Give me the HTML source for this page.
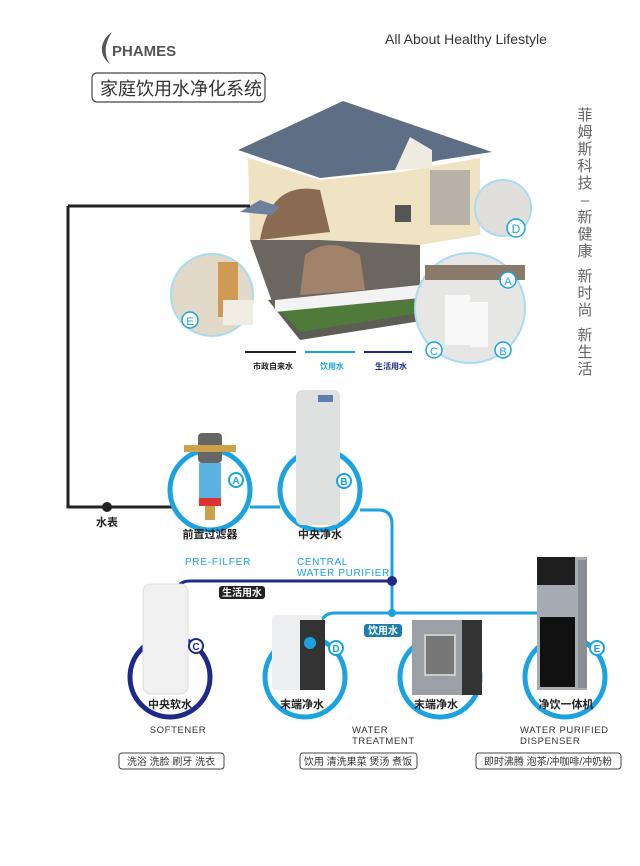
<!DOCTYPE html>
<html><head><meta charset="utf-8"><style>
body{margin:0;background:#fff;}
svg text{font-family:"Liberation Sans","Noto Sans CJK SC",sans-serif;}
</style></head><body>
<svg width="640" height="861" viewBox="0 0 640 861" xmlns="http://www.w3.org/2000/svg">
<rect width="640" height="861" fill="#fff"/>
<!-- logo -->
<path d="M112 32 C100 40 98 55 110 64 C104 56 104 44 112 32Z" fill="#555"/>
<text x="112" y="56" font-size="15" font-weight="bold" fill="#555">PHAMES</text>
<text x="385" y="44" font-size="14" fill="#333">All About Healthy Lifestyle</text>
<rect x="92" y="73" width="173" height="29" rx="5" fill="#fff" stroke="#444" stroke-width="1.2"/>
<text x="100" y="95" font-size="18" fill="#333">家庭饮用水净化系统</text>
<!-- vertical text -->
<g font-size="15" fill="#666" text-anchor="middle">
<text x="585" y="120">菲</text><text x="585" y="137">姆</text><text x="585" y="154">斯</text><text x="585" y="171">科</text><text x="585" y="188">技</text>
<text x="585" y="205">–</text>
<text x="585" y="222">新</text><text x="585" y="239">健</text><text x="585" y="256">康</text>
<text x="585" y="281">新</text><text x="585" y="298">时</text><text x="585" y="315">尚</text>
<text x="585" y="340">新</text><text x="585" y="357">生</text><text x="585" y="374">活</text>
</g>
<!-- house -->
<polygon points="268,300 420,290 440,318 300,340" fill="#5d5d55"/>
<polygon points="270,300 420,290 425,312 300,332" fill="#4f7a3a"/>
<polygon points="250,240 420,232 420,300 275,310" fill="#6b6660"/>
<polygon points="248,158 320,180 320,240 250,240" fill="#eee2c2"/>
<polygon points="320,180 400,172 480,158 480,235 420,245 320,240" fill="#efe3c4"/>
<path d="M260 240 Q270 180 320 190 L330 232Z" fill="#8a6b52"/>
<path d="M305 255 Q330 235 360 255 L365 290 L300 295Z" fill="#a0836a"/>
<rect x="430" y="170" width="40" height="55" fill="#b8b2a8"/>
<rect x="395" y="205" width="16" height="17" fill="#555"/>
<polygon points="275,300 420,285 420,298 275,312" fill="#f3f3f3"/>
<polygon points="238,150 343,101 492,152 440,160 395,170 320,178" fill="#5e6f85"/>
<polygon points="395,170 410,137 432,150 432,168" fill="#f0ece2"/>
<polygon points="240,212 260,200 280,207 272,215" fill="#6f819a"/>
<line x1="68" y1="206" x2="250" y2="206" stroke="#222" stroke-width="3"/>
<!-- insets -->
<circle cx="503" cy="208" r="28" fill="#e0dfdc" stroke="#a8dcf2" stroke-width="2"/>
<circle cx="516" cy="228" r="9" fill="#fff" stroke="#1aa3e0" stroke-width="1.5"/>
<text x="516" y="233" font-size="12" fill="#1aa3e0" text-anchor="middle">D</text>
<circle cx="470" cy="308" r="55" fill="#e6e6e4" stroke="#a8dcf2" stroke-width="2"/>
<rect x="445" y="295" width="25" height="50" fill="#f8f8f8"/>
<rect x="470" y="302" width="18" height="45" fill="#f8f8f8"/>
<rect x="425" y="265" width="100" height="15" fill="#8a7a6a"/>
<circle cx="508" cy="280" r="8" fill="#fff" stroke="#1aa3e0" stroke-width="1.5"/>
<text x="508" y="285" font-size="11" fill="#1aa3e0" text-anchor="middle">A</text>
<circle cx="434" cy="350" r="8" fill="#fff" stroke="#1aa3e0" stroke-width="1.5"/>
<text x="434" y="355" font-size="11" fill="#1aa3e0" text-anchor="middle">C</text>
<circle cx="503" cy="350" r="8" fill="#fff" stroke="#1aa3e0" stroke-width="1.5"/>
<text x="503" y="355" font-size="11" fill="#1aa3e0" text-anchor="middle">B</text>
<circle cx="212" cy="295" r="41" fill="#e3d9c8" stroke="#a8dcf2" stroke-width="2"/>
<rect x="218" y="262" width="20" height="55" fill="#d09a55"/>
<rect x="223" y="300" width="30" height="25" fill="#f2ede4"/>
<circle cx="190" cy="320" r="8" fill="#fff" stroke="#1aa3e0" stroke-width="1.5"/>
<text x="190" y="325" font-size="11" fill="#1aa3e0" text-anchor="middle">E</text>
<!-- legend -->
<line x1="245" y1="352" x2="296" y2="352" stroke="#222" stroke-width="2"/>
<line x1="305" y1="352" x2="355" y2="352" stroke="#1aa3e0" stroke-width="2"/>
<line x1="364" y1="352" x2="412" y2="352" stroke="#1e2a8a" stroke-width="2"/>
<text x="253" y="369" font-size="8" font-weight="bold" fill="#222">市政自来水</text>
<text x="320" y="369" font-size="8" font-weight="bold" fill="#1aa3e0">饮用水</text>
<text x="375" y="369" font-size="8" font-weight="bold" fill="#1e2a8a">生活用水</text>
<!-- black pipe -->
<path d="M68 206 V507 H175" fill="none" stroke="#222" stroke-width="3"/>
<circle cx="107" cy="507" r="5" fill="#222"/>
<text x="107" y="526" font-size="11" font-weight="bold" fill="#222" text-anchor="middle">水表</text>
<!-- cyan pipes -->
<path d="M250 507 H280" stroke="#1aa3e0" stroke-width="3" fill="none"/>
<path d="M360 510 H378 Q392 510 392 524 V613" stroke="#1aa3e0" stroke-width="3" fill="none"/>
<path d="M320 630 Q320 613 335 613 H540" stroke="#1aa3e0" stroke-width="3" fill="none"/>
<circle cx="392" cy="613" r="4" fill="#1aa3e0"/>
<path d="M392 581 H190 Q178 581 176 592" stroke="#1e2a8a" stroke-width="3" fill="none"/>
<circle cx="392" cy="581" r="5" fill="#1e2a8a"/>
<rect x="219" y="586" width="46" height="13" rx="3" fill="#222"/>
<text x="242" y="596" font-size="10" font-weight="bold" fill="#fff" text-anchor="middle">生活用水</text>
<rect x="364" y="624" width="38" height="13" rx="3" fill="#1b7ea8"/>
<text x="383" y="634" font-size="10" font-weight="bold" fill="#fff" text-anchor="middle">饮用水</text>
<!-- circle A -->
<circle cx="210" cy="490" r="40" fill="none" stroke="#1aa3e0" stroke-width="5"/>
<rect x="198" y="433" width="24" height="30" rx="4" fill="#666"/>
<rect x="184" y="445" width="52" height="7" fill="#c9a24a"/>
<rect x="199" y="463" width="22" height="35" fill="#5ab3e0"/>
<rect x="199" y="498" width="22" height="8" fill="#d33"/>
<rect x="205" y="506" width="10" height="14" fill="#c9a24a"/>
<circle cx="236" cy="480" r="7" fill="#fff" stroke="#1aa3e0" stroke-width="2"/>
<text x="236" y="484" font-size="10" font-weight="bold" fill="#1aa3e0" text-anchor="middle">A</text>
<text x="210" y="538" font-size="11" font-weight="bold" fill="#222" text-anchor="middle">前置过滤器</text>
<text x="218" y="565" font-size="10" fill="#1aa3e0" text-anchor="middle" letter-spacing="0.8">PRE-FILFER</text>
<!-- circle B -->
<circle cx="320" cy="490" r="40" fill="none" stroke="#1aa3e0" stroke-width="5"/>
<rect x="296" y="390" width="44" height="135" rx="6" fill="#dfe1e0"/>
<rect x="318" y="395" width="15" height="7" fill="#5b7fb0"/>
<circle cx="344" cy="481" r="7" fill="#fff" stroke="#1aa3e0" stroke-width="2"/>
<text x="344" y="485" font-size="10" font-weight="bold" fill="#1aa3e0" text-anchor="middle">B</text>
<text x="320" y="538" font-size="11" font-weight="bold" fill="#222" text-anchor="middle">中央净水</text>
<text x="297" y="565" font-size="10" fill="#1aa3e0" letter-spacing="0.6">CENTRAL</text>
<text x="297" y="576" font-size="10" fill="#1aa3e0" letter-spacing="0.6">WATER PURIFIER</text>
<!-- circle C -->
<circle cx="170" cy="677" r="40" fill="none" stroke="#1e2a8a" stroke-width="5"/>
<rect x="143" y="584" width="45" height="110" rx="8" fill="#f0f0f0" stroke="#ddd"/>
<circle cx="196" cy="646" r="7" fill="#fff" stroke="#1e2a8a" stroke-width="2"/>
<text x="196" y="650" font-size="10" font-weight="bold" fill="#1e2a8a" text-anchor="middle">C</text>
<text x="170" y="708" font-size="11" font-weight="bold" fill="#222" text-anchor="middle">中央软水</text>
<text x="178" y="733" font-size="9.5" fill="#333" text-anchor="middle" letter-spacing="0.6">SOFTENER</text>
<!-- circle D -->
<circle cx="305" cy="677" r="40" fill="none" stroke="#1aa3e0" stroke-width="5"/>
<rect x="272" y="615" width="50" height="75" rx="4" fill="#eceef0"/>
<rect x="300" y="620" width="25" height="70" fill="#333"/>
<circle cx="310" cy="643" r="6" fill="#1aa3e0"/>
<circle cx="336" cy="648" r="7" fill="#fff" stroke="#1aa3e0" stroke-width="2"/>
<text x="336" y="652" font-size="10" font-weight="bold" fill="#1aa3e0" text-anchor="middle">D</text>
<text x="302" y="708" font-size="11" font-weight="bold" fill="#222" text-anchor="middle">末端净水</text>
<text x="352" y="733" font-size="9.5" fill="#333" letter-spacing="0.6">WATER</text>
<text x="352" y="744" font-size="9.5" fill="#333" letter-spacing="0.6">TREATMENT</text>
<!-- circle 3 -->
<circle cx="440" cy="677" r="40" fill="none" stroke="#1aa3e0" stroke-width="5"/>
<rect x="412" y="620" width="70" height="75" fill="#9aa0a6"/>
<rect x="462" y="620" width="20" height="75" fill="#333"/>
<rect x="425" y="635" width="30" height="40" fill="#777" stroke="#ccc" stroke-width="2"/>
<text x="436" y="708" font-size="11" font-weight="bold" fill="#222" text-anchor="middle">末端净水</text>
<!-- circle E -->
<circle cx="565" cy="677" r="40" fill="none" stroke="#1aa3e0" stroke-width="5"/>
<rect x="537" y="557" width="50" height="133" fill="#a7acb2"/>
<rect x="537" y="557" width="38" height="28" fill="#1e1e1e"/>
<rect x="540" y="617" width="35" height="70" fill="#111"/>
<rect x="578" y="560" width="9" height="128" fill="#888e94"/>
<circle cx="597" cy="648" r="7" fill="#fff" stroke="#1aa3e0" stroke-width="2"/>
<text x="597" y="652" font-size="10" font-weight="bold" fill="#1aa3e0" text-anchor="middle">E</text>
<text x="566" y="708" font-size="11" font-weight="bold" fill="#222" text-anchor="middle">净饮一体机</text>
<text x="520" y="733" font-size="9.5" fill="#333" letter-spacing="0.6">WATER PURIFIED</text>
<text x="520" y="744" font-size="9.5" fill="#333" letter-spacing="0.6">DISPENSER</text>
<!-- bottom boxes -->
<rect x="119" y="753" width="105" height="16" rx="3" fill="#fff" stroke="#444"/>
<text x="171" y="765" font-size="10" fill="#333" text-anchor="middle">洗浴 洗脸 刷牙 洗衣</text>
<rect x="300" y="753" width="117" height="16" rx="3" fill="#fff" stroke="#444"/>
<text x="358" y="765" font-size="10" fill="#333" text-anchor="middle">饮用 清洗果菜 煲汤 煮饭</text>
<rect x="476" y="753" width="145" height="16" rx="3" fill="#fff" stroke="#444"/>
<text x="548" y="765" font-size="10" fill="#333" text-anchor="middle">即时沸腾 泡茶/冲咖啡/冲奶粉</text>
</svg>
</body></html>
